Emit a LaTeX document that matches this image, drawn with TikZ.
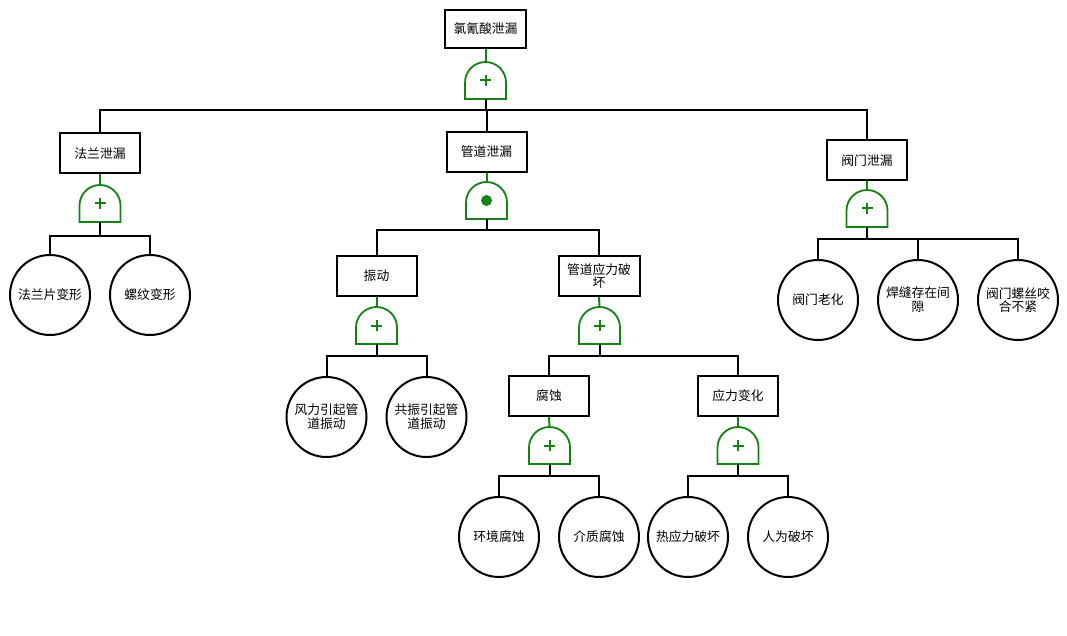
\documentclass[tikz,border=0pt]{standalone}
\usepackage{fontspec}
\setmainfont{Noto Sans CJK SC}
\definecolor{gr}{RGB}{20,130,20}
\newcommand\fsz{\fontsize{12.8}{13.8}\selectfont}
\tikzset{
  ev/.style={draw=black, line width=2pt, fill=white, minimum width=80pt, minimum height=40pt, inner sep=1pt, align=center, font=\fsz},
  be/.style={circle, draw=black, line width=2pt, fill=white, minimum size=80pt, inner sep=0pt, align=center, font=\fsz},
  gt/.style={minimum width=41pt, minimum height=37pt, inner sep=0pt, outer sep=0pt},
  con/.style={line width=2pt, draw=black},
  stem/.style={draw=gr, line width=2pt},
  gl/.style={draw=gr, line width=1.8pt, fill=white},
  sym/.style={draw=gr, line width=2pt}
}
\newcommand\orgate[3]{%
  \node[gt] (#1) at (#2,#3) {};
  \draw[gl] (#1.south west) -- ++(0,16.5) arc[start angle=180,end angle=0,radius=20.5] -- (#1.south east) -- cycle;
  \draw[sym] ([xshift=-5.5pt]#1.center) -- ([xshift=5.5pt]#1.center) ([yshift=-5.5pt]#1.center) -- ([yshift=5.5pt]#1.center);}
\newcommand\andgate[3]{%
  \node[gt] (#1) at (#2,#3) {};
  \draw[gl] (#1.south west) -- ++(0,16.5) arc[start angle=180,end angle=0,radius=20.5] -- (#1.south east) -- cycle;
  \fill[gr] (#1.center) circle[radius=5.5];}
\begin{document}
\begin{tikzpicture}[x=1pt,y=1pt]
\useasboundingbox[fill=white] (0,0) rectangle (1067,-636);
% coordinates for horizontal bars
\coordinate (b0) at (0,-110);
\coordinate (b1) at (0,-236);
\coordinate (b2) at (0,-230);
\coordinate (b3) at (0,-239);
\coordinate (b4) at (0,-356);
\coordinate (b5) at (0,-476);

% top
\node[ev, minimum width=81pt, minimum height=38pt] (top) at (485.5,-29) {氯氰酸泄漏};
\orgate{g0}{485.5}{-80.5}

% level 1
\node[ev] (fl) at (100,-153.5) {法兰泄漏};
\node[ev] (gd) at (486.5,-152) {管道泄漏};
\node[ev] (fm) at (867,-160.5) {阀门泄漏};

\orgate{gfl}{100}{-203.5}
\andgate{ggd}{486.5}{-200.5}
\orgate{gfm}{867}{-208.5}

% flange children
\node[be] (c1) at (50,-295) {法兰片变形};
\node[be] (c2) at (150,-295) {螺纹变形};

% valve children
\node[be] (v1) at (818,-300) {阀门老化};
\node[be] (v2) at (918,-300) {焊缝存在间\\隙};
\node[be] (v3) at (1018,-300) {阀门螺丝咬\\合不紧};

% pipe children
\node[ev] (zd) at (376.5,-276) {振动};
\node[ev, minimum width=81pt] (yl) at (599,-276) {管道应力破\\坏};
\orgate{gzd}{376.5}{-325.5}
\orgate{gyl}{599.5}{-325.5}

\node[be] (z1) at (326.5,-417) {风力引起管\\道振动};
\node[be] (z2) at (426.5,-417) {共振引起管\\道振动};

\node[ev] (fs) at (549,-396) {腐蚀};
\node[ev] (yb) at (738,-396) {应力变化};
\orgate{gfs}{549.5}{-445.5}
\orgate{gyb}{738}{-445.5}

\node[be] (f1) at (499,-537) {环境腐蚀};
\node[be] (f2) at (599,-537) {介质腐蚀};
\node[be] (y1) at (688,-537) {热应力破坏};
\node[be] (y2) at (788,-537) {人为破坏};

% connectors
\draw[con] (g0.south) -- (g0.south |- b0) -| (fl.north);
\draw[con] (g0.south) -- (g0.south |- b0) -| (gd.north);
\draw[con] (g0.south) -- (g0.south |- b0) -| (fm.north);

\draw[con] (gfl.south) -- (gfl.south |- b1) -| (c1.north);
\draw[con] (gfl.south) -- (gfl.south |- b1) -| (c2.north);

\draw[con] (ggd.south) -- (ggd.south |- b2) -| (zd.north);
\draw[con] (ggd.south) -- (ggd.south |- b2) -| (yl.north);

\draw[con] (gfm.south) -- (gfm.south |- b3) -| (v1.north);
\draw[con] (gfm.south) -- (gfm.south |- b3) -| (v2.north);
\draw[con] (gfm.south) -- (gfm.south |- b3) -| (v3.north);

\draw[con] (gzd.south) -- (gzd.south |- b4) -| (z1.north);
\draw[con] (gzd.south) -- (gzd.south |- b4) -| (z2.north);

\draw[con] (gyl.south) -- (gyl.south |- b4) -| (fs.north);
\draw[con] (gyl.south) -- (gyl.south |- b4) -| (yb.north);

\draw[con] (gfs.south) -- (gfs.south |- b5) -| (f1.north);
\draw[con] (gfs.south) -- (gfs.south |- b5) -| (f2.north);
\draw[con] (gyb.south) -- (gyb.south |- b5) -| (y1.north);
\draw[con] (gyb.south) -- (gyb.south |- b5) -| (y2.north);

% box-to-gate stems (green)
\draw[stem] (top.south) -- (g0.north);
\draw[stem] (fl.south) -- (gfl.north);
\draw[stem] (gd.south) -- (ggd.north);
\draw[stem] (fm.south) -- (gfm.north);
\draw[stem] (zd.south) -- (gzd.north);
\draw[stem] (yl.south) -- (gyl.north);
\draw[stem] (fs.south) -- (gfs.north);
\draw[stem] (yb.south) -- (gyb.north);
\end{tikzpicture}
\end{document}
